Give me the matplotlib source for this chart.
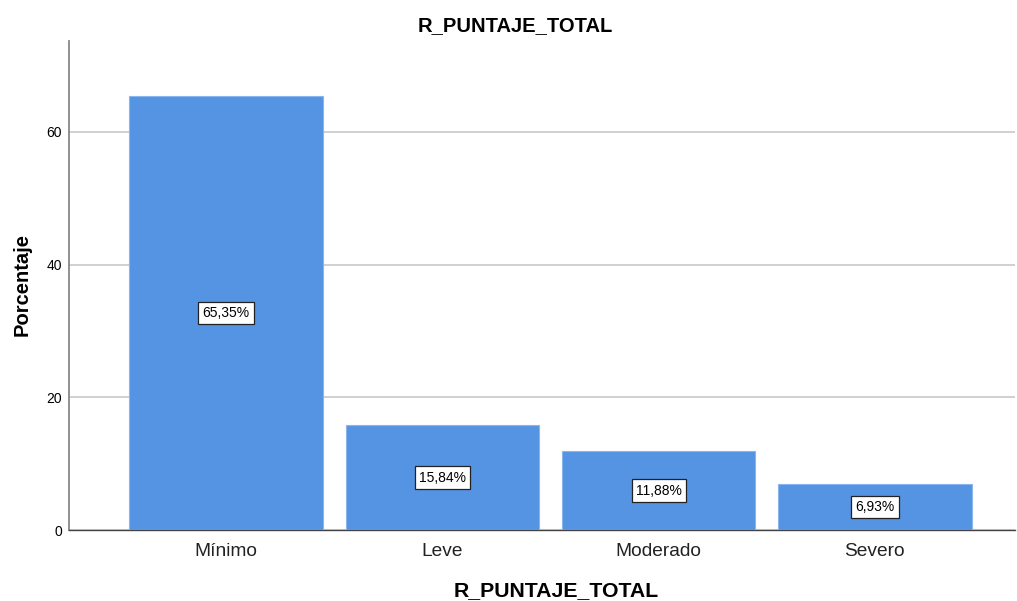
import numpy as np
import matplotlib.pyplot as plt

plt.rcParams['font.family'] = ['Liberation Sans', 'DejaVu Sans']

# Datos
categorias = ['Mínimo', 'Leve', 'Moderado', 'Severo']
porcentajes = [65.35, 15.84, 11.88, 6.93]
etiquetas = ['65,35%', '15,84%', '11,88%', '6,93%']

fig = plt.figure(figsize=(10.17, 6.01), dpi=100)
ax = fig.add_axes([0.0678, 0.118, 0.930, 0.814])

x = np.arange(len(categorias))
barras = ax.bar(x, porcentajes, width=0.896, color='#5594e3',
                edgecolor='#8ab6ee', linewidth=0.8, zorder=3)

# Etiquetas en el centro de cada barra
for xi, val, txt in zip(x, porcentajes, etiquetas):
    ax.text(xi, val / 2, txt, ha='center', va='center', fontsize=10, zorder=4,
            bbox=dict(boxstyle='square,pad=0.3', facecolor='white',
                      edgecolor='#222222', linewidth=0.9))

ax.set_xlim(-0.727, 3.647)
ax.set_ylim(0, 73.7)
ax.set_yticks([0, 20, 40, 60])
ax.set_xticks(x)
ax.set_xticklabels(categorias, fontsize=13.8, color='#222222')
ax.tick_params(axis='y', length=0, labelsize=10, pad=5)
ax.tick_params(axis='x', length=0, pad=9)

ax.grid(axis='y', color='#c8c8c8', linewidth=1.2, zorder=0)
ax.spines['top'].set_visible(False)
ax.spines['right'].set_visible(False)
ax.spines['left'].set_color('#888888')
ax.spines['left'].set_linewidth(1.3)
ax.spines['bottom'].set_color('#444444')
ax.spines['bottom'].set_linewidth(1.0)

fig.text(0.507, 0.958, 'R_PUNTAJE_TOTAL', fontsize=14.5, fontweight='bold',
         ha='center', va='center')
ax.set_xlabel('R_PUNTAJE_TOTAL', fontsize=15.3, fontweight='bold')
ax.xaxis.set_label_coords(0.515, -0.123)
ax.xaxis.label.set_va('center')
ax.set_ylabel('Porcentaje', fontsize=14.5, fontweight='bold')
ax.yaxis.set_label_coords(-0.0497, 0.501)
ax.yaxis.label.set_va('center')

fig.savefig('out.png', dpi=100)
